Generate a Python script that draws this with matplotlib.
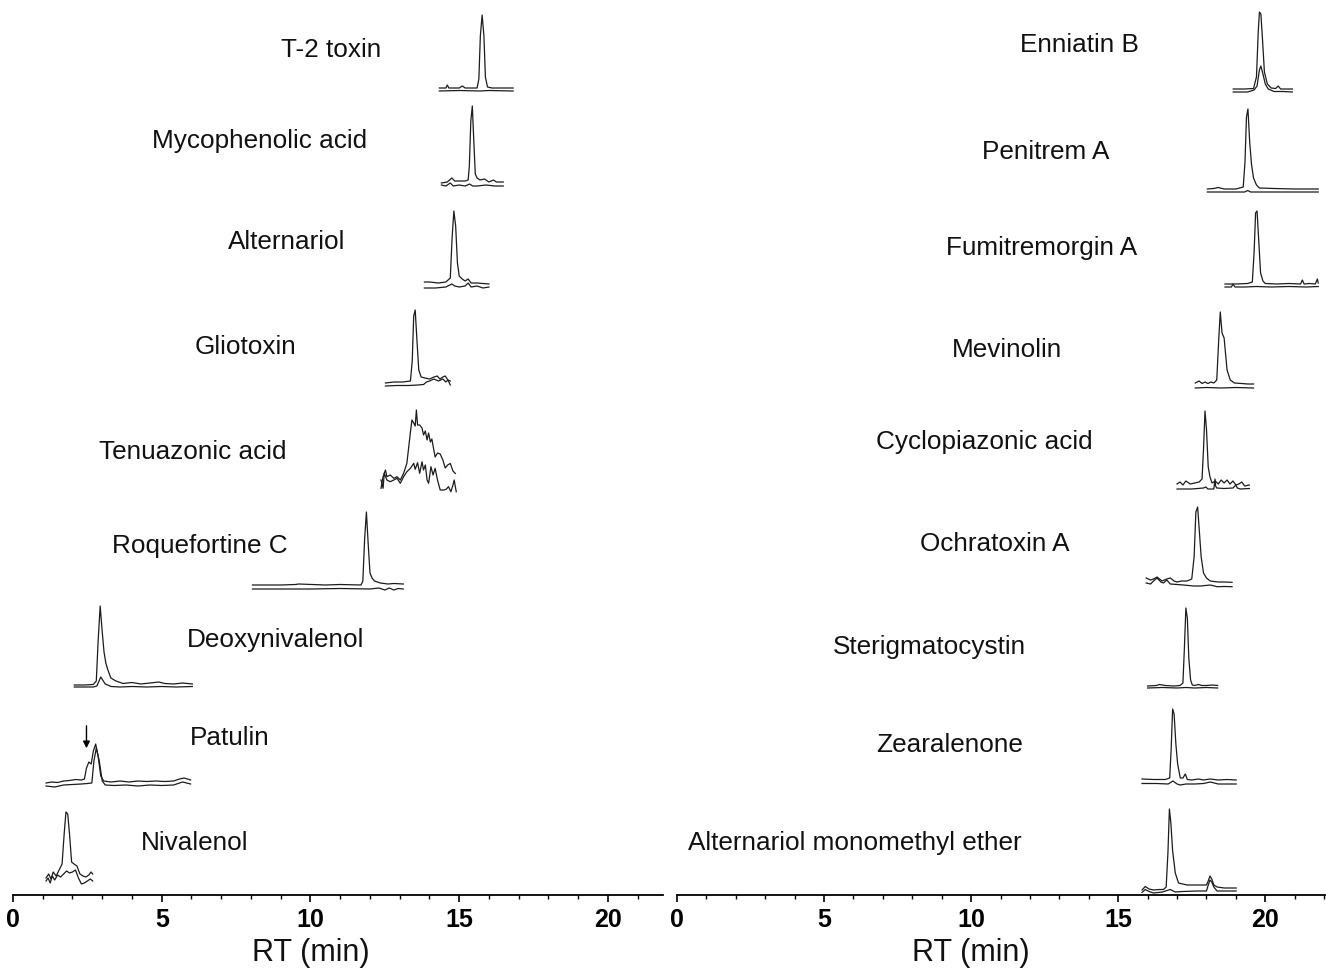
import matplotlib
matplotlib.use("Agg")
import matplotlib.pyplot as plt
from matplotlib.ticker import MultipleLocator

plt.rcParams['font.family'] = ['Liberation Sans', 'DejaVu Sans']

# ---------------- data: retention time (min) and response (arb. units) ----------------
# Left panel
t2_t   = [14.33, 14.55, 14.6, 14.65, 15.0, 15.1, 15.2, 15.6, 15.66, 15.71, 15.77, 15.83, 15.88, 15.95, 16.1, 16.4, 16.81]
t2_s   = [3, 3, 6, 3, 3, 5, 3, 3, 12, 55, 76, 55, 14, 4, 3, 3, 3]
t2_bt  = [14.33, 15.0, 15.7, 16.0, 16.81]
t2_b   = [0, 0.5, 0, 0.5, 0]

mpa_t  = [14.4, 14.6, 14.75, 14.85, 15.0, 15.2, 15.3, 15.34, 15.39, 15.44, 15.49, 15.54, 15.6, 15.7, 15.85, 16.0, 16.15, 16.25, 16.48]
mpa_s  = [3, 4, 8, 5, 5, 5, 6, 20, 65, 80, 45, 12, 8, 6, 7, 4, 6, 4, 4]
mpa_bt = [14.4, 14.55, 14.7, 14.8, 15.0, 15.2, 15.35, 15.45, 15.6, 15.9, 16.2, 16.48]
mpa_b  = [1, 0, 3, 0, 1, 0, 2, 0, 0, 1, 0, 0]

aoh_t  = [13.83, 14.0, 14.3, 14.55, 14.7, 14.76, 14.82, 14.88, 14.94, 15.0, 15.1, 15.2, 15.3, 15.4, 15.6, 16.0]
aoh_s  = [6, 6, 5, 6, 10, 50, 77, 62, 25, 12, 9, 7, 9, 5, 5, 4]
aoh_bt = [13.83, 14.2, 14.55, 14.75, 14.85, 15.0, 15.2, 15.3, 15.4, 15.6, 15.8, 16.0]
aoh_b  = [0, 0, 1, 4, 2, 1, 2, 5, 1, 2, 0, 1]

gli_t  = [12.52, 12.8, 13.1, 13.36, 13.42, 13.47, 13.52, 13.58, 13.64, 13.72, 13.85, 14.0, 14.15, 14.26, 14.35, 14.45, 14.53, 14.62, 14.70]
gli_s  = [3, 4, 4, 5, 25, 70, 76, 45, 16, 9, 8, 7, 9, 10, 7, 9, 10, 6, 5]
gli_bt = [12.52, 12.9, 13.3, 13.6, 13.8, 13.9, 14.0, 14.15, 14.3, 14.45, 14.55, 14.62, 14.70]
gli_b  = [0, 0.5, 0.5, 1, 1.5, 4, 5, 7, 5, 7, 4, 6, 1]

tea_t  = [12.37, 12.44, 12.52, 12.57, 12.68, 12.80, 12.91, 13.02, 13.13, 13.24, 13.36, 13.41, 13.47, 13.52,
          13.56, 13.60, 13.67, 13.75, 13.80, 13.86, 13.92, 13.97, 14.03, 14.08, 14.14, 14.19, 14.27, 14.36,
          14.45, 14.53, 14.61, 14.70, 14.79, 14.87]
tea_s  = [1.7, 13.3, 20, 13.3, 15, 11.7, 13.3, 10, 16.7, 26.7, 58, 70, 67, 64,
          80, 65, 65, 62, 55, 59, 50, 57, 48, 51, 41, 33, 37, 36,
          30, 22, 25, 26.5, 19, 16.5]
tea_bt = [12.37, 12.44, 12.48, 12.57, 12.68, 12.80, 12.91, 13.02, 13.13, 13.24, 13.36, 13.47, 13.52, 13.60,
          13.67, 13.75, 13.80, 13.86, 13.92, 13.97, 14.05, 14.12, 14.19, 14.27, 14.36, 14.47, 14.56, 14.64,
          14.72, 14.79, 14.83, 14.90]
tea_b  = [10, 1.7, 16.7, 10, 8.3, 10, 11.7, 6.7, 13.3, 18.3, 21.7, 26.7, 20.7, 27.3,
          16.7, 28.3, 20, 25, 10, 6.7, 23.3, 15, 21.7, 10, 0, 0, 0.7, 3.3,
          -1.7, 5, 10, -1.7]

roq_t  = [8.05, 9.0, 9.5, 9.6, 10.5, 11.0, 11.7, 11.76, 11.82, 11.88, 11.94, 12.0, 12.07, 12.15, 12.35, 12.6, 12.8, 13.12]
roq_s  = [4, 4, 4.5, 5, 4, 4.5, 4, 8, 50, 77, 45, 16, 11, 8, 6, 5, 5.5, 5]
roq_bt = [8.05, 10.0, 11.0, 12.0, 12.3, 12.5, 12.65, 12.8, 12.95, 13.12]
roq_b  = [0, 0, 0.5, 0, 1, -1, 1, -1, 0.5, 0]

don_t  = [2.06, 2.4, 2.7, 2.8, 2.86, 2.93, 3.0, 3.06, 3.12, 3.19, 3.29, 3.46, 3.7, 4.0, 4.3, 4.6, 4.9, 5.1, 5.4, 5.7, 6.03]
don_s  = [2, 2, 2.5, 6, 45, 81, 55, 35, 24, 17, 9, 6, 3.5, 4.5, 3, 4, 5, 3.5, 3, 4, 3]
don_bt = [2.06, 2.7, 2.82, 2.95, 3.1, 3.3, 3.6, 4.0, 4.5, 5.0, 5.5, 6.03]
don_b  = [0, 0, 1, 10, 3, 0.5, 0, 0.5, 0, 0.5, 0, 0.5]

pat_t  = [1.11, 1.3, 1.5, 1.7, 1.9, 2.1, 2.3, 2.4, 2.47, 2.55, 2.63, 2.7, 2.78, 2.86, 2.95, 3.05, 3.3, 3.6,
          3.9, 4.2, 4.5, 4.8, 5.1, 5.4, 5.6, 5.75, 5.97]
pat_s  = [3, 4, 3.5, 5, 5.5, 6.5, 6, 7, 18, 24, 22, 35, 42, 30, 10, 5, 4, 5,
          4, 5, 4.5, 5, 4.5, 5, 7, 8, 6]
pat_bt = [1.11, 1.4, 1.7, 2.0, 2.3, 2.5, 2.65, 2.72, 2.8, 2.9, 3.0, 3.1, 3.4, 3.8, 4.2, 4.6, 5.0, 5.4, 5.7, 5.97]
pat_b  = [0, -1, 1, 1.5, 2, 2.5, 3, 25, 38, 25, 5, 1, 0.5, 1, 0, 1, 0.5, 1, 4, 2]

niv_t  = [1.11, 1.2, 1.28, 1.35, 1.45, 1.55, 1.65, 1.72, 1.78, 1.84, 1.9, 1.97, 2.05, 2.15, 2.25, 2.35, 2.45, 2.55, 2.62, 2.68]
niv_s  = [6, 10, 5, 12, 8, 14, 20, 50, 72, 70, 50, 22, 20, 18, 10, 8, 7, 9, 12, 10]
niv_bt = [1.11, 1.18, 1.25, 1.32, 1.4, 1.5, 1.6, 1.7, 1.8, 1.9, 2.0, 2.1, 2.2, 2.3, 2.4, 2.5, 2.6, 2.68]
niv_b  = [3, 6, 1, 8, 4, 9, 7, 10, 13, 11, 12, 14, 6, 0, 1, 3, 5, 3]

# Right panel
enn_t  = [18.91, 19.3, 19.6, 19.7, 19.76, 19.8, 19.85, 19.9, 19.97, 20.07, 20.2, 20.35, 20.44, 20.52, 20.7, 20.92]
enn_s  = [3, 3, 3.5, 15, 60, 80, 78, 55, 20, 8, 4, 3.5, 6, 3, 3, 3]
enn_bt = [18.91, 19.4, 19.62, 19.72, 19.8, 19.85, 19.92, 20.0, 20.1, 20.3, 20.6, 20.92]
enn_b  = [0, 0, 2, 6, 22, 26, 18, 8, 3, 0.5, 0.5, 0]

pen_t  = [18.03, 18.25, 18.4, 18.6, 19.0, 19.25, 19.31, 19.36, 19.41, 19.47, 19.53, 19.6, 19.7, 19.8, 20.3, 21.0, 21.8]
pen_s  = [3, 3.5, 4.5, 3, 3, 5, 30, 75, 83, 50, 28, 14, 7, 4, 3.5, 3, 3]
pen_bt = [18.03, 19.3, 19.4, 19.5, 21.8]
pen_b  = [0, 0, 1.5, 0, 0]

fum_t  = [18.63, 19.0, 19.4, 19.56, 19.62, 19.67, 19.72, 19.78, 19.84, 19.92, 20.0, 20.4, 20.8, 21.2, 21.26, 21.32,
          21.5, 21.7, 21.77, 21.8]
fum_s  = [3, 3, 3.5, 5, 35, 74, 76, 45, 14, 6, 3.5, 3, 3.5, 3, 7, 3, 3.5, 3, 8, 4]
fum_bt = [18.63, 18.85, 18.9, 18.97, 19.3, 19.7, 20.2, 20.8, 21.4, 21.8]
fum_b  = [0, 0, 3, 0, 0, 0.5, 0, 0.5, 0, 0.5]

mev_t  = [17.62, 17.75, 17.85, 17.95, 18.05, 18.15, 18.25, 18.35, 18.42, 18.47, 18.53, 18.6, 18.7, 18.81,
          18.95, 19.2, 19.4, 19.6]
mev_s  = [5, 7, 4.5, 6, 4.5, 6, 5, 8, 50, 76, 55, 50, 18, 8, 5, 4.5, 4, 4]
mev_bt = [17.62, 18.0, 18.5, 19.0, 19.6]
mev_b  = [0, 0.5, 0, 0.5, 0]

cpa_t  = [17.0, 17.1, 17.2, 17.3, 17.45, 17.6, 17.75, 17.85, 17.9, 17.95, 18.0, 18.06, 18.12, 18.19, 18.3,
          18.4, 18.5, 18.6, 18.7, 18.8, 18.9, 19.0, 19.1, 19.2, 19.3, 19.46]
cpa_s  = [5, 7, 4, 8, 5, 6, 7, 10, 40, 78, 60, 22, 12, 6, 8, 5, 9, 6, 9, 5, 8, 4, 5, 7, 3, 4]
cpa_bt = [17.0, 17.5, 17.9, 17.98, 18.05, 18.25, 18.29, 18.31, 18.35, 18.6, 18.9, 19.0, 19.05, 19.15, 19.46]
cpa_b  = [0, 0, 1, 2, 0, 0, 10, 3, 1, 0.5, 1, 4, 1, 0, 0.5]

ota_t  = [15.95, 16.1, 16.2, 16.32, 16.49, 16.65, 16.77, 16.9, 17.0, 17.15, 17.34, 17.5, 17.58, 17.64, 17.7,
          17.76, 17.82, 17.9, 18.0, 18.13, 18.4, 18.6, 18.87]
ota_s  = [9, 7, 8, 10, 6, 8, 9, 6, 5, 6, 6, 8, 30, 75, 80, 55, 30, 14, 9, 6, 5, 5, 4.7]
ota_bt = [15.95, 16.1, 16.2, 16.32, 16.45, 16.54, 16.65, 16.77, 17.0, 17.22, 17.56, 17.8, 18.13, 18.36, 18.6, 18.87]
ota_b  = [4, 3, 6, 9, 5, 4, 7, 3, 2.5, 2, 1, 1, 2, 0.3, 0.5, 0.3]

stc_t  = [16.0, 16.3, 16.4, 16.6, 16.9, 17.1, 17.2, 17.25, 17.3, 17.35, 17.4, 17.46, 17.52, 17.6, 17.72, 17.85,
          18.0, 18.2, 18.38]
stc_s  = [2, 2.5, 3.5, 2.5, 2, 2.5, 5, 40, 80, 70, 30, 8, 3, 2.5, 3.5, 2.5, 2.5, 3, 2.5]
stc_bt = [16.0, 16.5, 17.0, 17.3, 17.6, 18.0, 18.38]
stc_b  = [0, 0.5, 0, 0.5, 0, 0.5, 0]

zen_t  = [15.81, 16.2, 16.6, 16.75, 16.8, 16.85, 16.9, 16.96, 17.02, 17.11, 17.2, 17.28, 17.35, 17.5, 17.73, 17.9,
          18.13, 18.4, 18.7, 19.01]
zen_s  = [5, 4.5, 4.5, 6, 35, 75, 70, 40, 20, 6, 6, 10, 4.5, 4, 5, 4, 5, 4, 4.5, 4]
zen_bt = [15.81, 16.3, 16.7, 16.86, 17.0, 17.11, 17.3, 17.6, 17.9, 18.13, 18.4, 19.01]
zen_b  = [0.5, 0.5, 0, 3, 0, -1, 0, 0, 0.5, 2, 0, 0]

ame_t  = [15.81, 15.92, 16.05, 16.2, 16.4, 16.54, 16.63, 16.69, 16.74, 16.79, 16.85, 16.94, 17.05, 17.34, 17.68,
          18.0, 18.06, 18.12, 18.18, 18.25, 18.36, 18.6, 19.01]
ame_s  = [3, 6.5, 4, 3, 3.5, 3.5, 6, 40, 84, 70, 42, 20, 10, 8, 8, 8, 12, 17, 14, 8, 6, 5, 5]
ame_bt = [15.81, 15.92, 16.05, 16.2, 16.5, 16.77, 16.94, 17.2, 17.68, 18.0, 18.06, 18.12, 18.18, 18.25, 18.36, 18.6, 19.01]
ame_b  = [0.5, 3.5, 1.5, 0, 1, 3.5, 1, 1.5, 2, 2, 8, 13, 11, 6, 2, 2, 2]

left_names = ["T-2 toxin", "Mycophenolic acid", "Alternariol", "Gliotoxin", "Tenuazonic acid",
              "Roquefortine C", "Deoxynivalenol", "Patulin", "Nivalenol"]
right_names = ["Enniatin B", "Penitrem A", "Fumitremorgin A", "Mevinolin", "Cyclopiazonic acid",
               "Ochratoxin A", "Sterigmatocystin", "Zearalenone", "Alternariol monomethyl ether"]

left_traces = [(t2_t, t2_s, t2_bt, t2_b), (mpa_t, mpa_s, mpa_bt, mpa_b), (aoh_t, aoh_s, aoh_bt, aoh_b),
               (gli_t, gli_s, gli_bt, gli_b), (tea_t, tea_s, tea_bt, tea_b), (roq_t, roq_s, roq_bt, roq_b),
               (don_t, don_s, don_bt, don_b), (pat_t, pat_s, pat_bt, pat_b), (niv_t, niv_s, niv_bt, niv_b)]
right_traces = [(enn_t, enn_s, enn_bt, enn_b), (pen_t, pen_s, pen_bt, pen_b), (fum_t, fum_s, fum_bt, fum_b),
                (mev_t, mev_s, mev_bt, mev_b), (cpa_t, cpa_s, cpa_bt, cpa_b), (ota_t, ota_s, ota_bt, ota_b),
                (stc_t, stc_s, stc_bt, stc_b), (zen_t, zen_s, zen_bt, zen_b), (ame_t, ame_s, ame_bt, ame_b)]

# ---------------- layout ----------------
W, H = 1326, 971
AX_BOTTOM_PX = 895
left_base_px = [91, 186, 288, 386, 490, 589, 687, 786, 884]
right_base_px = [92, 192, 287, 388, 489, 587, 688, 784, 893]
left_label_pos = [(10.69, 50), (8.30, 141), (9.21, 242), (7.80, 347), (6.05, 452),
                  (6.29, 546), (8.81, 640), (7.29, 738), (6.12, 843)]
right_label_pos = [(13.68, 45), (12.53, 152), (12.39, 248), (11.21, 350), (10.46, 442),
                   (10.80, 544), (8.59, 647), (9.27, 745), (6.04, 843)]

fig = plt.figure(figsize=(W / 100, H / 100), dpi=100)
axL = fig.add_axes([13 / W, (H - AX_BOTTOM_PX) / H, (663 - 13) / W, AX_BOTTOM_PX / H])
axR = fig.add_axes([677 / W, (H - AX_BOTTOM_PX) / H, (1325 - 677) / W, AX_BOTTOM_PX / H])

LINE = '#1c1c1c'
for ax, xmax, traces, bases, names, labpos in [
        (axL, 21.85, left_traces, left_base_px, left_names, left_label_pos),
        (axR, 22.03, right_traces, right_base_px, right_names, right_label_pos)]:
    ax.set_xlim(0, xmax)
    ax.set_ylim(0, AX_BOTTOM_PX)
    for (ts, hs, tb, hb), base, name, (lx, ly) in zip(traces, bases, names, labpos):
        off = AX_BOTTOM_PX - base
        ax.plot(tb, [off + v for v in hb], color=LINE, lw=0.9, solid_joinstyle='round')
        ax.plot(ts, [off + v for v in hs], color=LINE, lw=0.9, solid_joinstyle='round')
        ax.text(lx, AX_BOTTOM_PX - ly, name, ha='center', va='center', fontsize=18.8, color='#111111')
    for s in ['left', 'right', 'top']:
        ax.spines[s].set_visible(False)
    ax.spines['bottom'].set_linewidth(1.3)
    ax.yaxis.set_visible(False)
    ax.xaxis.set_major_locator(MultipleLocator(5))
    ax.xaxis.set_minor_locator(MultipleLocator(1))
    ax.tick_params(axis='x', which='major', direction='out', length=5, width=1.2, pad=4,
                   labelsize=18)
    ax.tick_params(axis='x', which='minor', direction='out', length=3, width=1.0)
    for lab in ax.get_xticklabels():
        lab.set_fontweight('bold')
    ax.text(10, -0.065, "RT (min)", transform=ax.get_xaxis_transform(), ha='center', va='center',
            fontsize=22, color='#111111')

# arrow marking the patulin shoulder
axL.annotate('', xy=(2.47, AX_BOTTOM_PX - 751), xytext=(2.47, AX_BOTTOM_PX - 723),
             arrowprops=dict(arrowstyle='-|>', lw=1.0, color='k', mutation_scale=10))

fig.savefig("out.png", dpi=100)
